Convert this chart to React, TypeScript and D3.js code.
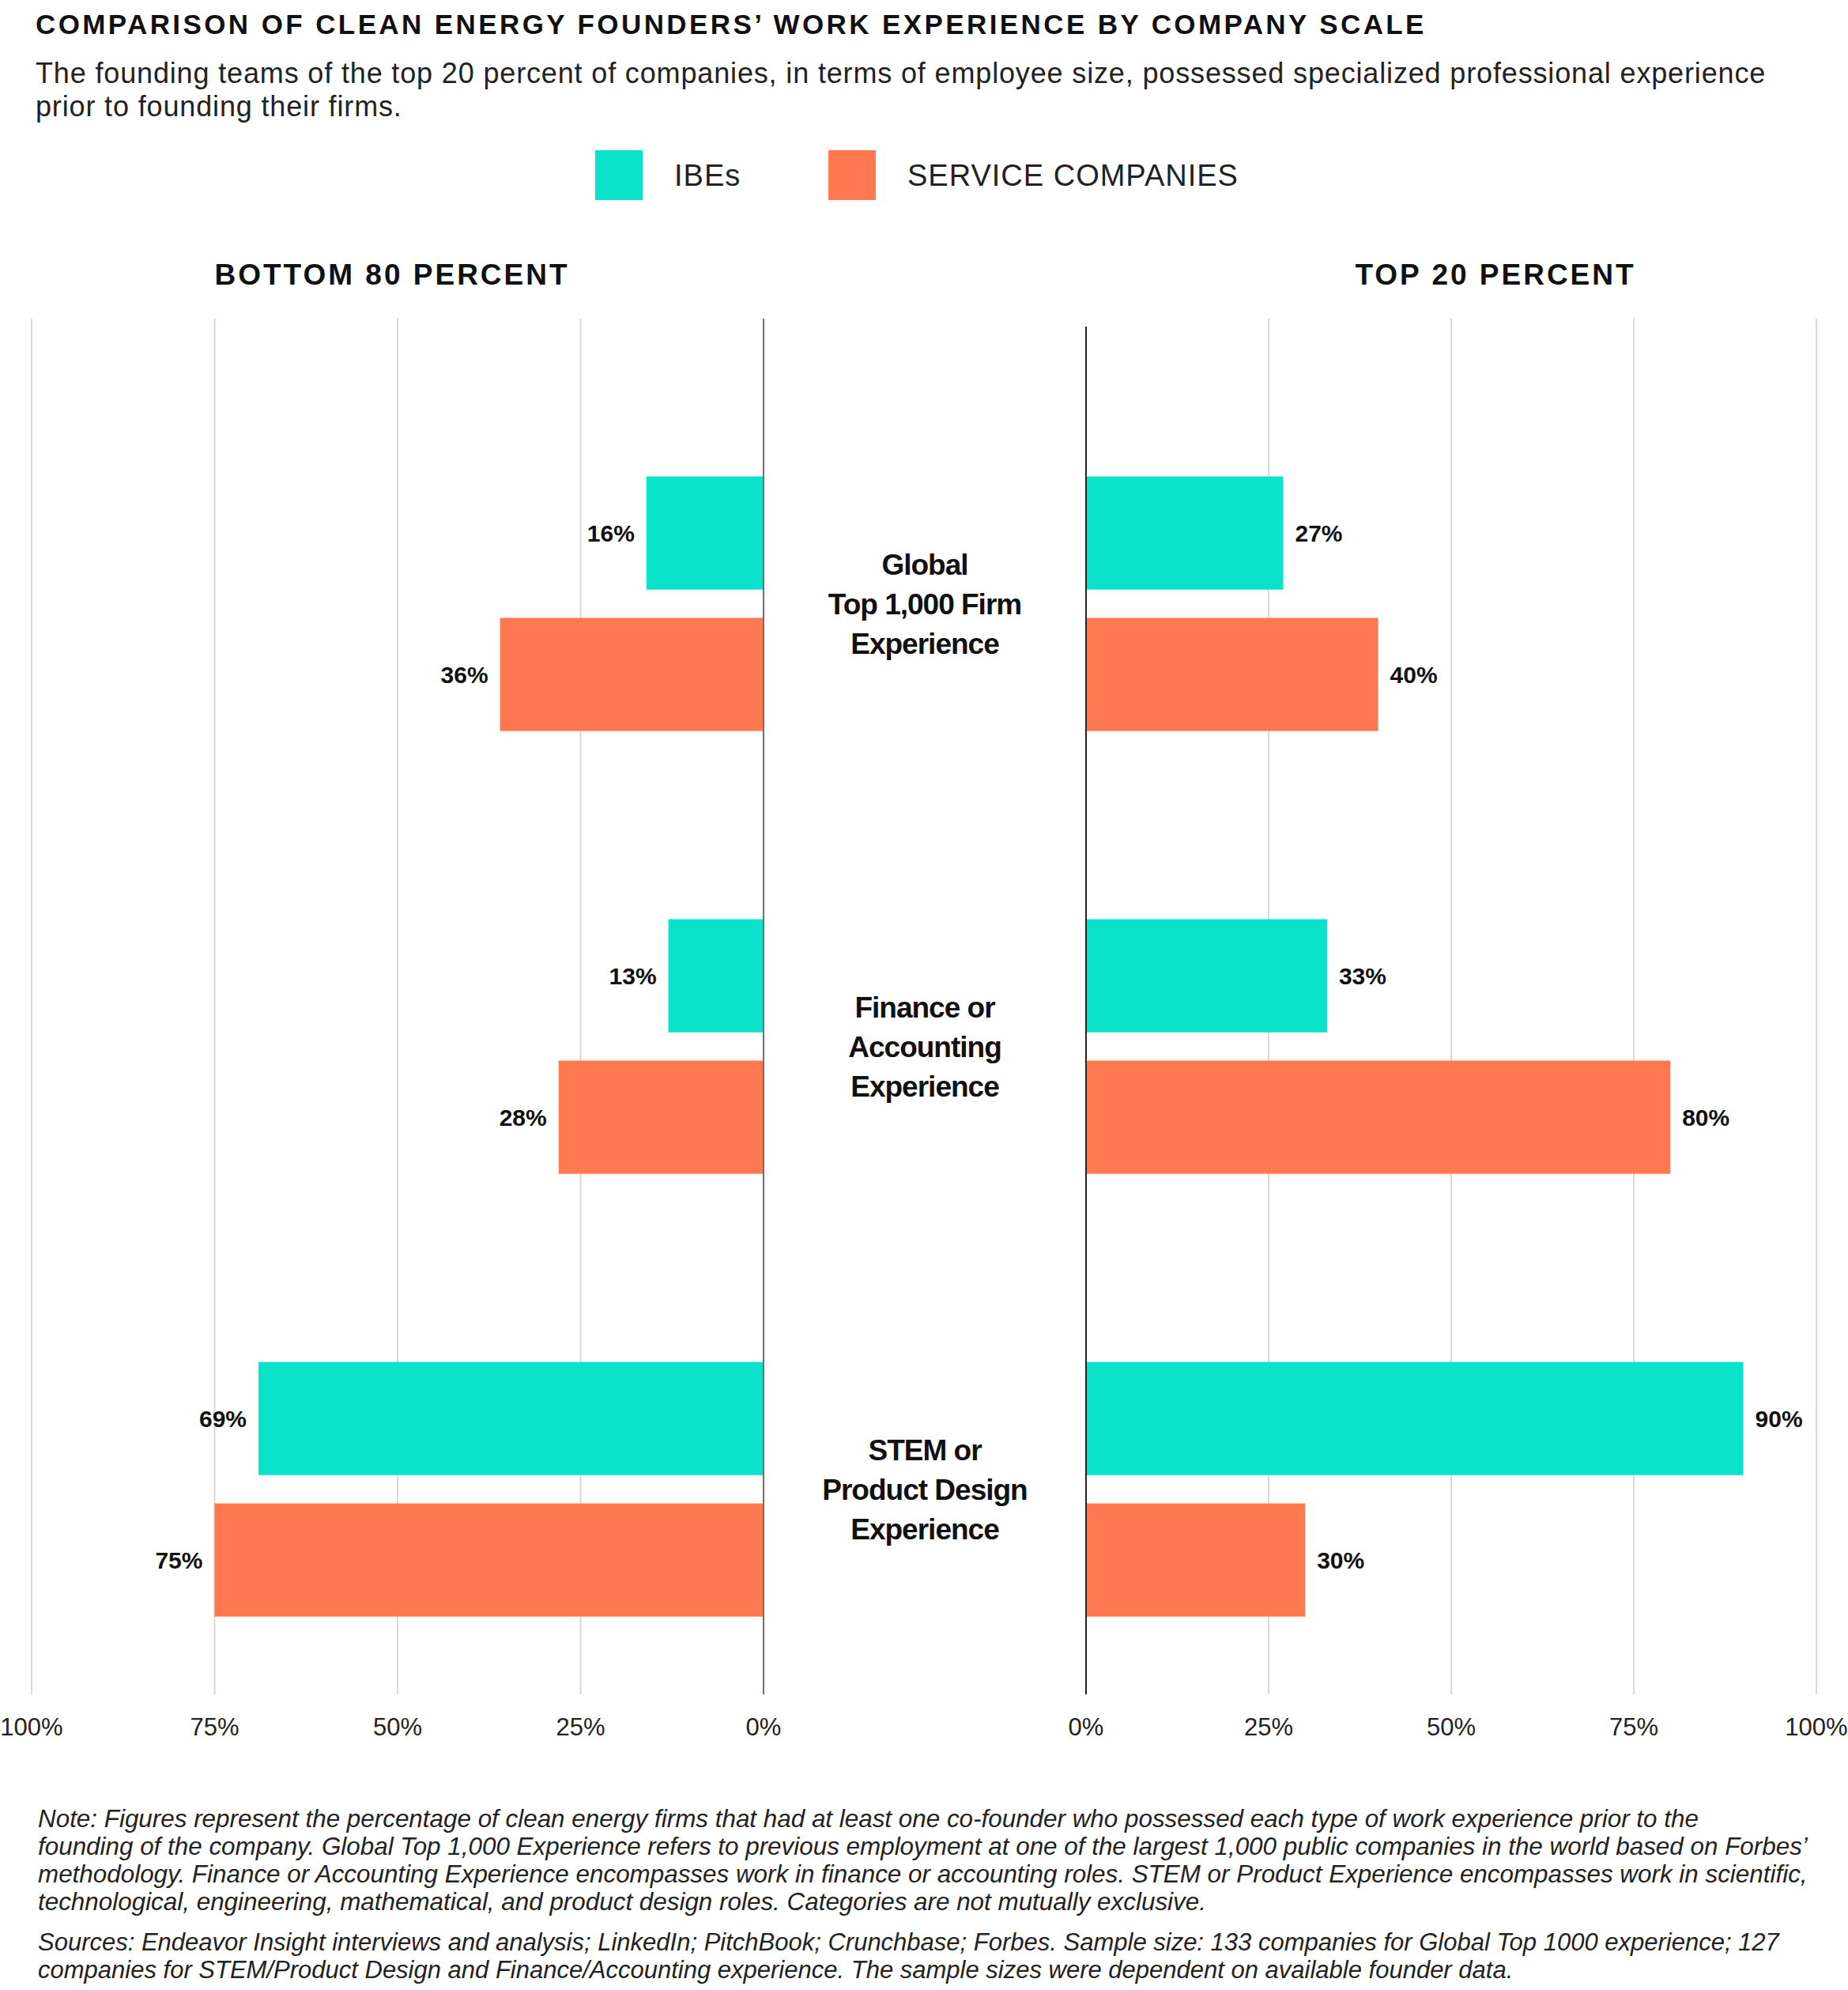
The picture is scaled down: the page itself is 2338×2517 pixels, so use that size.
import React, { useEffect } from 'react';
import * as d3 from 'd3';

// chart data
const series = ['IBEs', 'SERVICE COMPANIES'];
const categories = ['global', 'finance', 'stem'];
const categoryLines = [
  ['Global', 'Top 1,000 Firm', 'Experience'],
  ['Finance or', 'Accounting', 'Experience'],
  ['STEM or', 'Product Design', 'Experience'],
];
const bottomIbes = [16, 13, 69];
const bottomService = [36, 28, 75];
const topIbes = [27, 33, 90];
const topService = [40, 80, 30];
const ticks = [0, 25, 50, 75, 100];

const title = 'COMPARISON OF CLEAN ENERGY FOUNDERS’ WORK EXPERIENCE BY COMPANY SCALE';
const subtitle = [
  'The founding teams of the top 20 percent of companies, in terms of employee size, possessed specialized professional experience',
  'prior to founding their firms.',
];
const noteLines = [
  'Note: Figures represent the percentage of clean energy firms that had at least one co-founder who possessed each type of work experience prior to the',
  'founding of the company. Global Top 1,000 Experience refers to previous employment at one of the largest 1,000 public companies in the world based on Forbes’',
  'methodology. Finance or Accounting Experience encompasses work in finance or accounting roles. STEM or Product Experience encompasses work in scientific,',
  'technological, engineering, mathematical, and product design roles. Categories are not mutually exclusive.',
];
const sourceLines = [
  'Sources: Endeavor Insight interviews and analysis; LinkedIn; PitchBook; Crunchbase; Forbes. Sample size: 133 companies for Global Top 1000 experience; 127',
  'companies for STEM/Product Design and Finance/Accounting experience. The sample sizes were dependent on available founder data.',
];

const W = 2338;
const H = 2517;
const FONT = '"Liberation Sans", Arial, sans-serif';
const TEAL = '#0be2cc';
const ORANGE = '#ff7850';

const App: React.FC = () => {
  useEffect(() => {
    document.body.style.margin = '0';
  }, []);

  const gridTop = 403;
  const gridBottom = 2143;

  const xLeft = d3.scaleLinear().domain([0, 100]).range([966, 40]);
  const xRight = d3.scaleLinear().domain([0, 100]).range([1374, 2298]);

  const y = d3
    .scaleBand<string>()
    .domain(categories)
    .range([gridTop, gridBottom])
    .paddingInner(0.425)
    .paddingOuter(0.266)
    .align(0.67);

  const ySub = d3.scaleBand<string>().domain(series).range([0, y.bandwidth()]).paddingInner(0.2);
  const color = d3.scaleOrdinal<string, string>().domain(series).range([TEAL, ORANGE]);

  const left = categories.map((c, i) => [bottomIbes[i], bottomService[i]]);
  const right = categories.map((c, i) => [topIbes[i], topService[i]]);

  const centerX = (xLeft(0) + xRight(0)) / 2;

  return (
    <svg width={W} height={H} style={{ display: 'block', background: '#fff' }} fontFamily={FONT}>
      <text x={45} y={43} fontSize={35} fontWeight="bold" letterSpacing={3.4} fill="#111">
        {title}
      </text>
      {subtitle.map((s, i) => (
        <text key={i} x={45} y={105 + i * 42} fontSize={36} letterSpacing={0.85} fill="#222">
          {s}
        </text>
      ))}

      {/* legend */}
      {series.map((s, i) => {
        const lx = 753 + i * 295;
        return (
          <g key={s}>
            <rect x={lx} y={190} width={60} height={63} fill={color(s)} />
            <text x={lx + 100} y={235} fontSize={38} letterSpacing={1} fill="#222">
              {s}
            </text>
          </g>
        );
      })}

      <text x={496} y={360} fontSize={37} fontWeight="bold" letterSpacing={3} textAnchor="middle" fill="#111">
        BOTTOM 80 PERCENT
      </text>
      <text x={1892} y={360} fontSize={37} fontWeight="bold" letterSpacing={3} textAnchor="middle" fill="#111">
        TOP 20 PERCENT
      </text>

      {/* grid */}
      {ticks.filter((t) => t > 0).map((t) => (
        <g key={t}>
          <line x1={xLeft(t)} x2={xLeft(t)} y1={gridTop} y2={gridBottom} stroke="#d8d8d8" strokeWidth={2} />
          <line x1={xRight(t)} x2={xRight(t)} y1={gridTop} y2={gridBottom} stroke="#d8d8d8" strokeWidth={2} />
        </g>
      ))}

      {/* bars */}
      {categories.map((c, ci) => (
        <g key={c} transform={`translate(0,${y(c)})`}>
          {series.map((s, si) => {
            const by = ySub(s)!;
            const bh = ySub.bandwidth();
            const lv = left[ci][si];
            const rv = right[ci][si];
            return (
              <g key={s}>
                <rect x={xLeft(lv)} y={by} width={xLeft(0) - xLeft(lv)} height={bh} fill={color(s)} />
                <text
                  x={xLeft(lv) - 15}
                  y={by + bh / 2 + 11}
                  fontSize={30}
                  fontWeight="bold"
                  textAnchor="end"
                  fill="#111"
                >
                  {lv}%
                </text>
                <rect x={xRight(0)} y={by} width={xRight(rv) - xRight(0)} height={bh} fill={color(s)} />
                <text x={xRight(rv) + 15} y={by + bh / 2 + 11} fontSize={30} fontWeight="bold" fill="#111">
                  {rv}%
                </text>
              </g>
            );
          })}
          {categoryLines[ci].map((line, li) => (
            <text
              key={li}
              x={centerX}
              y={y.bandwidth() / 2 + 13 + (li - 1) * 50}
              fontSize={37}
              fontWeight="bold"
              letterSpacing={-1}
              textAnchor="middle"
              fill="#111"
            >
              {line}
            </text>
          ))}
        </g>
      ))}

      {/* zero lines */}
      <line x1={xLeft(0)} x2={xLeft(0)} y1={gridTop} y2={gridBottom} stroke="#6e6e6e" strokeWidth={2} />
      <line x1={xRight(0)} x2={xRight(0)} y1={gridTop + 10} y2={gridBottom} stroke="#222" strokeWidth={2} />

      {/* axis labels */}
      {ticks.map((t) => (
        <g key={t}>
          <text x={xLeft(t)} y={2195} fontSize={31} textAnchor="middle" fill="#222">
            {t}%
          </text>
          <text x={xRight(t)} y={2195} fontSize={31} textAnchor="middle" fill="#222">
            {t}%
          </text>
        </g>
      ))}

      {/* footnotes */}
      {noteLines.map((s, i) => (
        <text key={i} x={48} y={2311 + i * 35} fontSize={31.4} fontStyle="italic" fill="#222">
          {s}
        </text>
      ))}
      {sourceLines.map((s, i) => (
        <text key={i} x={48} y={2467 + i * 35} fontSize={31} fontStyle="italic" fill="#222">
          {s}
        </text>
      ))}
    </svg>
  );
};

export default App;
